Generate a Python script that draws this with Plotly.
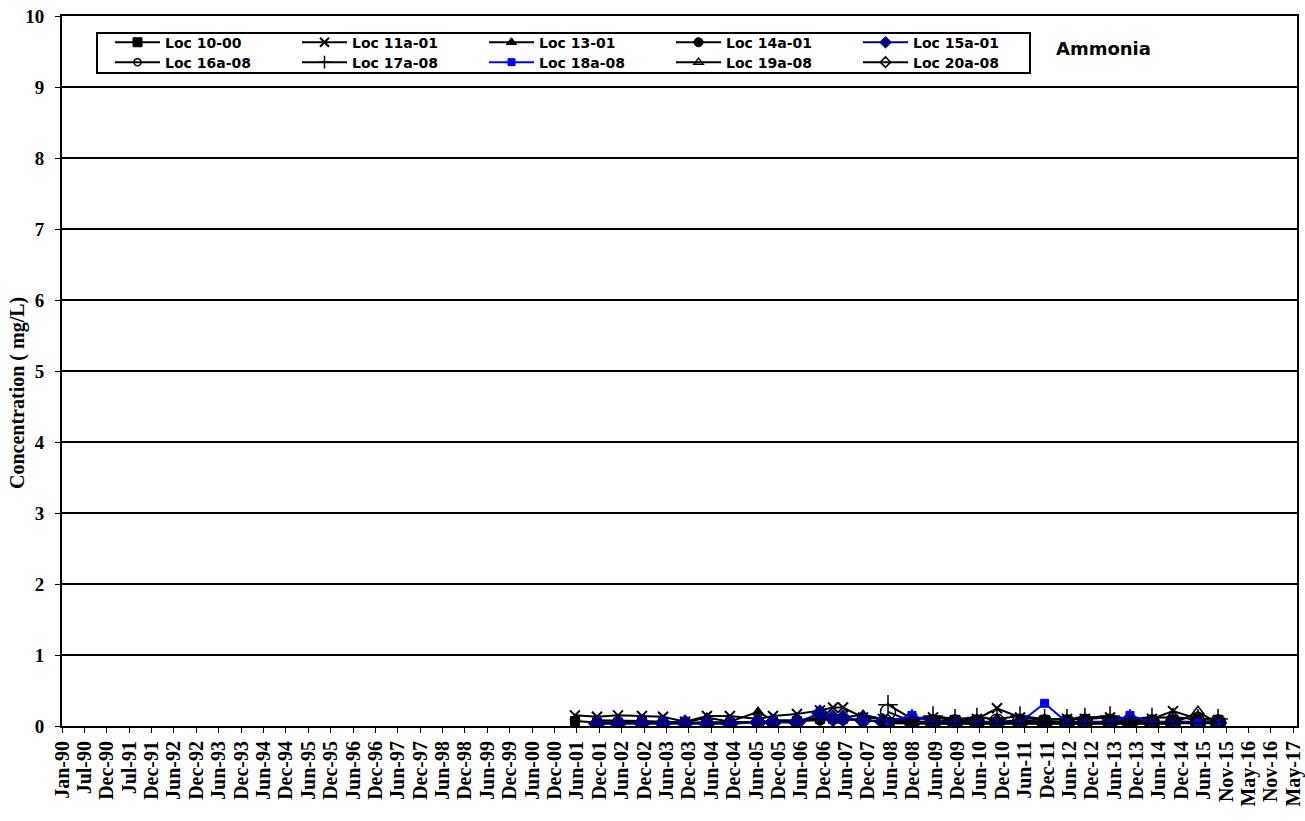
import pandas as pd
import plotly.graph_objects as go

# ---- sampling dates ----
dates_2001 = ["2001-06-02", "2001-11-28", "2002-05-18", "2002-11-29", "2003-05-19",
              "2003-11-14", "2004-05-10", "2004-11-13", "2005-06-29", "2005-10-29",
              "2006-05-12", "2006-11-15", "2007-03-01", "2007-05-21", "2007-10-31",
              "2008-04-10", "2008-12-02", "2009-05-22", "2009-11-17", "2010-05-14",
              "2010-10-24", "2011-04-29", "2011-11-15", "2012-05-15", "2012-10-08",
              "2013-04-30", "2013-10-09", "2014-04-06", "2014-09-24", "2015-04-15",
              "2015-09-25"]
dates_2001b = dates_2001[1:]
dates_2008 = ["2008-05-21", "2008-12-02", "2009-05-22", "2009-11-17", "2010-05-14",
              "2010-10-24", "2011-04-29", "2011-11-15", "2012-05-15", "2012-10-08",
              "2013-04-30", "2013-10-09", "2014-04-06", "2014-09-24", "2015-04-15",
              "2015-09-25"]

# ---- ammonia concentrations (mg/L) ----
loc10_00 = [0.07, 0.05, 0.05, 0.06, 0.05, 0.04, 0.05, 0.05, 0.06, 0.06, 0.07, 0.10, 0.10,
            0.10, 0.08, 0.06, 0.05, 0.05, 0.05, 0.05, 0.05, 0.05, 0.05, 0.05, 0.05, 0.05,
            0.05, 0.05, 0.06, 0.05, 0.05]
loc11a_01 = [0.15, 0.13, 0.15, 0.14, 0.13, 0.06, 0.14, 0.14, 0.10, 0.14, 0.17, 0.22, 0.26,
             0.26, 0.12, 0.10, 0.10, 0.12, 0.08, 0.10, 0.25, 0.12, 0.08, 0.10, 0.10, 0.12,
             0.08, 0.10, 0.21, 0.10, 0.08]
loc13_01 = [0.08, 0.08, 0.07, 0.06, 0.05, 0.12, 0.06, 0.20, 0.08, 0.08, 0.12, 0.12, 0.12,
            0.16, 0.10, 0.06, 0.06, 0.08, 0.06, 0.06, 0.08, 0.06, 0.06, 0.06, 0.06, 0.08,
            0.06, 0.06, 0.06, 0.06]
loc14a_01 = [0.05, 0.05, 0.05, 0.05, 0.04, 0.05, 0.05, 0.06, 0.06, 0.07, 0.08, 0.10, 0.10,
             0.08, 0.06, 0.06, 0.05, 0.05, 0.05, 0.05, 0.05, 0.05, 0.05, 0.05, 0.05, 0.05,
             0.05, 0.05, 0.05, 0.05]
loc15a_01 = [0.03, 0.03, 0.04, 0.04, 0.04, 0.03, 0.03, 0.05, 0.05, 0.05, 0.18, 0.11, 0.11,
             0.08, 0.06, 0.05, 0.05, 0.05, 0.05, 0.05, 0.05, 0.05, 0.05, 0.05, 0.05, 0.05,
             0.05, 0.05, 0.05, 0.05]
loc16a_08 = [0.20, 0.06, 0.05, 0.05, 0.05, 0.06, 0.06, 0.05, 0.05, 0.06, 0.06, 0.05, 0.05,
             0.05, 0.05, 0.05]
loc17a_08 = [0.30, 0.10, 0.14, 0.10, 0.12, 0.10, 0.14, 0.10, 0.10, 0.12, 0.14, 0.10, 0.12,
             0.12, 0.10, 0.10]
loc18a_08 = [0.06, 0.15, 0.05, 0.05, 0.05, 0.05, 0.05, 0.32, 0.05, 0.05, 0.05, 0.15, 0.05,
             0.05, 0.05, 0.05]
loc19a_08 = [0.04, 0.03, 0.03, 0.03, 0.03, 0.03, 0.03, 0.03, 0.03, 0.03, 0.03, 0.03, 0.03,
             0.03, 0.20, 0.04]
loc20a_08 = [0.05, 0.04, 0.04, 0.04, 0.04, 0.04, 0.04, 0.04, 0.04, 0.04, 0.04, 0.04, 0.04,
             0.04, 0.04, 0.04]

# ---- x-axis tick labels (one every 182 days from Jan 1990) ----
tick_labels = ["Jan-90", "Jul-90", "Dec-90", "Jul-91", "Dec-91", "Jun-92", "Dec-92", "Jun-93",
               "Dec-93", "Jun-94", "Dec-94", "Jun-95", "Dec-95", "Jun-96", "Dec-96", "Jun-97",
               "Dec-97", "Jun-98", "Dec-98", "Jun-99", "Dec-99", "Jun-00", "Dec-00", "Jun-01",
               "Dec-01", "Jun-02", "Dec-02", "Jun-03", "Dec-03", "Jun-04", "Dec-04", "Jun-05",
               "Dec-05", "Jun-06", "Dec-06", "Jun-07", "Dec-07", "Jun-08", "Dec-08", "Jun-09",
               "Dec-09", "Jun-10", "Dec-10", "Jun-11", "Dec-11", "Jun-12", "Dec-12", "Jun-13",
               "Dec-13", "Jun-14", "Dec-14", "Jun-15", "Nov-15", "May-16", "Nov-16", "May-17"]
start = pd.Timestamp("1990-01-01")
tick_vals = [start + pd.Timedelta(days=182 * i) for i in range(len(tick_labels))]
x_end = tick_vals[-1] + pd.Timedelta(days=30)

BLACK = "#000000"
NAVY = "#000080"
BLUE = "#0000FF"

# name, dates, values, colour, symbol, plot size, legend size, marker outline width
series = [
    ("Loc 10-00", dates_2001, loc10_00, BLACK, "square", 9, 9, 1),
    ("Loc 11a-01", dates_2001, loc11a_01, BLACK, "x-thin", 10, 9, 2),
    ("Loc 13-01", dates_2001b, loc13_01, BLACK, "triangle-up", 10, 9, 1),
    ("Loc 14a-01", dates_2001b, loc14a_01, BLACK, "circle", 10, 9, 1),
    ("Loc 15a-01", dates_2001b, loc15a_01, NAVY, "diamond", 13, 9, 1),
    ("Loc 16a-08", dates_2008, loc16a_08, BLACK, "circle-open", 15, 7, 1.5),
    ("Loc 17a-08", dates_2008, loc17a_08, BLACK, "cross-thin", 14, 9, 1.5),
    ("Loc 18a-08", dates_2008, loc18a_08, BLUE, "square", 8, 7, 1),
    ("Loc 19a-08", dates_2008, loc19a_08, BLACK, "triangle-up-open", 11, 8, 1.5),
    ("Loc 20a-08", dates_2008, loc20a_08, BLACK, "diamond-open", 12, 8, 1.5),
]

fig = go.Figure()
for name, xs, ys, color, symbol, size, lsize, mlw in series:
    fig.add_trace(go.Scatter(
        x=pd.to_datetime(xs), y=ys, name=name, mode="lines+markers",
        line=dict(color=color, width=2),
        marker=dict(symbol=symbol, size=size, color=color,
                    line=dict(color=color, width=mlw)),
        showlegend=False,
    ))

# legend entries with smaller symbols, two rows of five
for i, (name, xs, ys, color, symbol, size, lsize, mlw) in enumerate(series):
    fig.add_trace(go.Scatter(
        x=[None], y=[None], name=name, mode="lines+markers",
        line=dict(color=color, width=2),
        marker=dict(symbol=symbol, size=lsize, color=color,
                    line=dict(color=color, width=mlw)),
        legend="legend" if i < 5 else "legend2",
    ))

legend_font = dict(family="DejaVu Sans", size=14, color=BLACK, weight="bold")
legend_common = dict(orientation="h", xanchor="left", yanchor="top",
                     bgcolor="rgba(0,0,0,0)", borderwidth=0, font=legend_font,
                     entrywidth=127, entrywidthmode="pixels", itemwidth=45,
                     tracegroupgap=0)

serif = "Liberation Serif"
fig.update_layout(
    template="none",
    width=1305, height=821,
    margin=dict(l=62, r=8, t=16, b=95),
    paper_bgcolor="white", plot_bgcolor="white",
    showlegend=True,
    legend=dict(x=(110 - 62) / 1235, y=0.985, **legend_common),
    legend2=dict(x=(110 - 62) / 1235, y=0.957, **legend_common),
    xaxis=dict(
        type="date", automargin=False,
        range=[tick_vals[0], x_end],
        tickmode="array", tickvals=tick_vals, ticktext=tick_labels,
        tickangle=-90, ticklabeloverflow="allow",
        tickfont=dict(family=serif, size=20, color=BLACK, weight="bold"),
        ticks="outside", ticklen=5, tickcolor=BLACK, tickwidth=1,
        showgrid=False, showline=True, linecolor=BLACK, linewidth=2, mirror=True,
        zeroline=False,
    ),
    yaxis=dict(
        automargin=False,
        range=[0, 10], dtick=1, tick0=0,
        tickfont=dict(family=serif, size=19, color=BLACK, weight="bold"),
        ticks="outside", ticklen=5, tickcolor=BLACK, tickwidth=1,
        ticklabelstandoff=7,
        showgrid=True, gridcolor=BLACK, gridwidth=1.5,
        showline=True, linecolor=BLACK, linewidth=2, mirror=True,
        zeroline=False,
    ),
    shapes=[dict(type="rect", xref="paper", yref="paper",
                 x0=(97 - 62) / 1235, x1=(1030 - 62) / 1235,
                 y0=(726 - 73) / 710, y1=(726 - 33) / 710,
                 line=dict(color=BLACK, width=2), fillcolor="rgba(0,0,0,0)",
                 layer="above")],
    annotations=[
        dict(text="Ammonia", xref="paper", yref="paper",
             x=(1103 - 62) / 1235, y=(726 - 48) / 710,
             showarrow=False, xanchor="center", yanchor="middle",
             font=dict(family="DejaVu Sans", size=18, color=BLACK, weight="bold")),
        dict(text="Concentration ( mg/L)", xref="paper", yref="paper",
             x=(18 - 62) / 1235, y=(726 - 393) / 710, xanchor="center", yanchor="middle",
             showarrow=False, textangle=-90,
             font=dict(family=serif, size=20, color=BLACK, weight="bold")),
    ],
)

fig.write_html("out.html")
